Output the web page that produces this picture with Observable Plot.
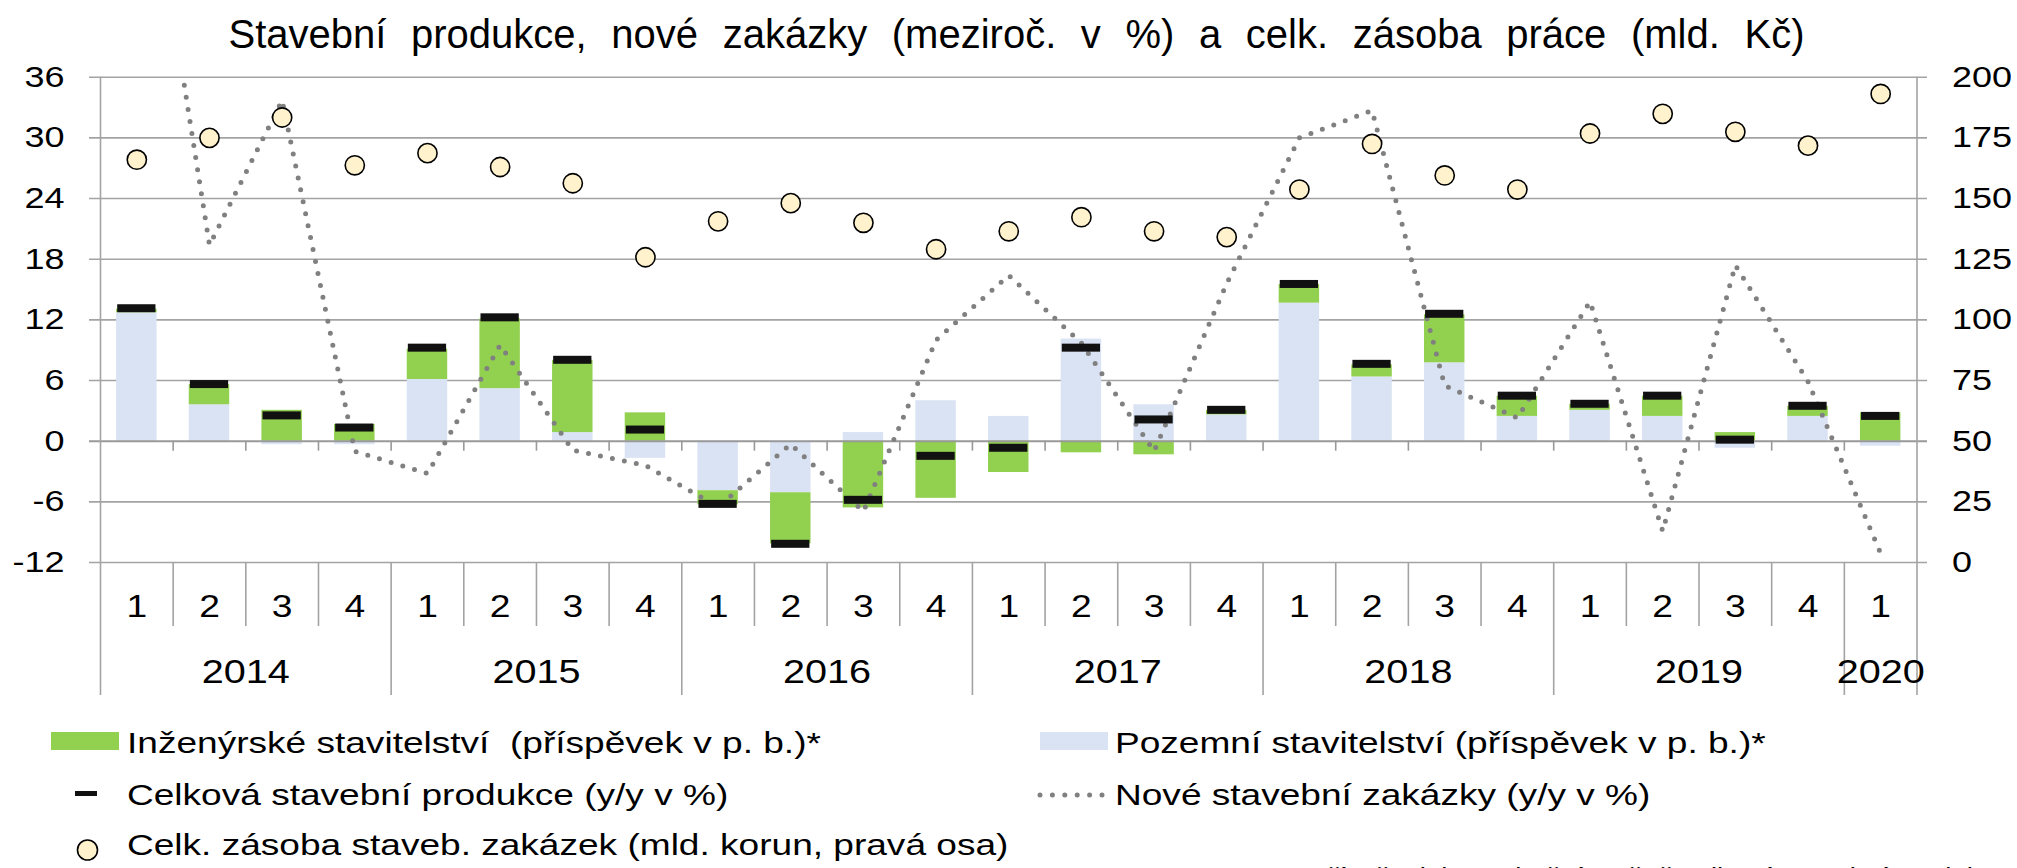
<!DOCTYPE html>
<html><head><meta charset="utf-8">
<script src="https://cdn.jsdelivr.net/npm/d3@7"></script>
<script src="https://cdn.jsdelivr.net/npm/@observablehq/plot@0.6"></script>
<style>
html,body{margin:0;padding:0;background:#fff;overflow:hidden}
#wrap{position:relative;width:2017px;height:868px;overflow:hidden;font-family:"Liberation Sans",Arial,sans-serif;color:#000}
#title{position:absolute;left:8px;top:14px;width:2017px;text-align:center;font-size:40px;line-height:1;white-space:pre;word-spacing:13.5px}
#chart{position:absolute;left:0;top:60px}
.lg{position:absolute;font-size:30px;line-height:1;white-space:pre;transform:scaleX(1.235);transform-origin:0 0}
.sw{position:absolute}
#foot{position:absolute;left:1295px;top:865px;font-size:22px;line-height:1;white-space:pre;transform:scaleX(1.26);transform-origin:0 0}
</style></head>
<body>
<div id="wrap">
  <div id="title">Stavební produkce, nové zakázky (meziroč. v %) a celk. zásoba práce (mld. Kč)</div>
  <div id="chart"></div>
  <div class="sw" style="left:51px;top:732px;width:68px;height:18px;background:#92D050"></div>
  <div class="lg" style="left:127px;top:728px">Inženýrské stavitelství  (příspěvek v p. b.)*</div>
  <div class="sw" style="left:75px;top:791px;width:22px;height:5px;background:#111"></div>
  <div class="lg" style="left:127px;top:780px">Celková stavební produkce (y/y v %)</div>
  <svg class="sw" style="left:74px;top:836px" width="28" height="28"><circle cx="13.5" cy="14" r="10" fill="#FFF2CC" stroke="#000" stroke-width="1.6"/></svg>
  <div class="lg" style="left:127px;top:830px">Celk. zásoba staveb. zakázek (mld. korun, pravá osa)</div>
  <div class="sw" style="left:1040px;top:732px;width:68px;height:18px;background:#DAE3F3"></div>
  <div class="lg" style="left:1115px;top:728px">Pozemní stavitelství (příspěvek v p. b.)*</div>
  <svg class="sw" style="left:1034px;top:788px" width="74" height="14"><line x1="6" y1="7" x2="68" y2="7" stroke="#808080" stroke-width="5" stroke-linecap="round" stroke-dasharray="0 12.4"/></svg>
  <div class="lg" style="left:1115px;top:780px">Nové stavební zakázky (y/y v %)</div>
  <div id="foot">* příspěvek k meziroční změně celkové stavební produkce</div>
</div>
<script>
// ---- data ----
const quarters = ["1","2","3","4","1","2","3","4","1","2","3","4","1","2","3","4","1","2","3","4","1","2","3","4","1"];
const years = ["2014","2015","2016","2017","2018","2019","2020"];
const quartersPerYear = [4,4,4,4,4,4,1];
// Pozemní stavitelství (příspěvek v p. b.)
const pozemni = [12.7,3.6,-0.35,-0.35,6.1,5.2,0.85,-1.7,-4.9,-5.1,0.85,4.0,2.45,10.1,3.6,2.6,13.65,6.35,7.75,2.45,3.05,2.45,-0.7,2.45,-0.5];
// Inženýrské stavitelství (příspěvek v p. b.)
const inzenyrske = [0.35,2.0,3.05,1.65,3.0,6.9,7.15,2.8,-1.4,-5.05,-6.6,-5.65,-3.1,-1.15,-1.35,0.45,1.85,1.2,4.75,2.0,0.6,2.0,0.85,1.0,2.8];
// Celková stavební produkce (y/y v %)
const celkova = [13.1,5.6,2.5,1.3,9.2,12.2,8.0,1.1,-6.25,-10.2,-5.85,-1.5,-0.7,9.2,2.1,3.05,15.5,7.6,12.55,4.45,3.65,4.45,0.1,3.45,2.45];
// Nové stavební zakázky (y/y v %)
const zakazky = [65,19.4,33.7,-1.0,-3.2,9.5,-0.9,-2.4,-6.5,-0.3,-6.95,10.0,16.4,9.7,-1.0,15.6,30.0,32.7,5.5,2.3,13.8,-8.9,17.4,5.9,-11.1];
// Celk. zásoba staveb. zakázek (mld. Kč, pravá osa)
const zasoba = [166,175,183.4,163.7,168.7,163,156.3,125.8,140.6,148.1,140,129.1,136.5,142.3,136.5,134.1,153.7,172.5,159.5,153.7,176.8,184.9,177.5,171.8,193.1];
const leftTicks = [-12,-6,0,6,12,18,24,30,36];
const rightTicks = [0,25,50,75,100,125,150,175,200];

// ---- derived ----
const leftDomain = [leftTicks[0], leftTicks[leftTicks.length-1]];
const rightDomain = [rightTicks[0], rightTicks[rightTicks.length-1]];
const toLeft = r => leftDomain[0] + (r - rightDomain[0]) / (rightDomain[1]-rightDomain[0]) * (leftDomain[1]-leftDomain[0]);
const n = quarters.length;
const rows = quarters.map((q,i) => ({i, q, B: pozemni[i], G: inzenyrske[i], T: celkova[i], N: zakazky[i], S: zasoba[i]}));
const segs = [];
rows.forEach(d => {
  let pos = 0, neg = 0;
  [["Pozemní", d.B, "#DAE3F3"], ["Inženýrské", d.G, "#92D050"]].forEach(([s, v, c]) => {
    if (v >= 0) { segs.push({i: d.i, s, c, y1: pos, y2: pos + v}); pos += v; }
    else { segs.push({i: d.i, s, c, y1: neg, y2: neg + v}); neg += v; }
  });
});
let acc = 0;
const yearRows = years.map((y,k) => { const c = acc + quartersPerYear[k]/2; const start = acc; acc += quartersPerYear[k]; return {y, c, start}; });
const yearBounds = [...yearRows.map(d => d.start), n];
const qBounds = d3.range(1, n).filter(b => !yearBounds.includes(b));
const grid = "#a3a3a3";
const bottom = leftDomain[0];

const chart = Plot.plot({
  width: 2017, height: 650,
  marginLeft: 100, marginRight: 100.5, marginTop: 16.7, marginBottom: 148,
  style: {fontFamily: "'Liberation Sans', Arial, sans-serif", background: "white", color: "black"},
  x: {type: "linear", domain: [0, n], axis: null},
  y: {domain: leftDomain, axis: null},
  marks: [
    Plot.ruleY(leftTicks.filter(t => t !== 0), {x1: 0, x2: n, stroke: grid, strokeWidth: 1.6, insetLeft: -11, insetRight: -10.5}),
    Plot.rect(segs, {x1: d => d.i, x2: d => d.i + 1, y1: "y1", y2: "y2", fill: "c", insetLeft: 16.1, insetRight: 16.1}),
    Plot.ruleY([0], {x1: 0, x2: n, stroke: "#999", strokeWidth: 2, insetLeft: -11, insetRight: -10.5}),
    Plot.ruleX(d3.range(1, n), {x: d => d, y1: 0, y2: 0, insetBottom: -10, stroke: "#999", strokeWidth: 1.6}),
    Plot.ruleX([0, n], {x: d => d, y1: leftDomain[1], y2: bottom, stroke: grid, strokeWidth: 1.6}),
    Plot.ruleX(qBounds, {x: d => d, y1: bottom, y2: bottom, insetBottom: -64, stroke: grid, strokeWidth: 1.6}),
    Plot.ruleX(yearBounds, {x: d => d, y1: bottom, y2: bottom, insetBottom: -133, stroke: grid, strokeWidth: 1.6}),
    Plot.line(rows, {x: d => d.i + 0.5, y: "N", stroke: "#808080", strokeWidth: 5, strokeDasharray: "0 12.2", strokeLinecap: "round", clip: true}),
    Plot.rect(rows, {x1: d => d.i, x2: d => d.i + 1, y1: "T", y2: "T", insetLeft: 17.2, insetRight: 17.2, insetTop: -4, insetBottom: -4, fill: "#111"}),
    Plot.dot(rows, {x: d => d.i + 0.5, y: d => toLeft(d.S), r: 9.6, fill: "#FFF2CC", stroke: "#000", strokeWidth: 1.6}),
    Plot.text(leftTicks, {x: 0, y: d => d, text: d => String(d), textAnchor: "end", dx: -36, fontSize: 30}),
    Plot.text(rightTicks, {x: n, y: d => toLeft(d), text: d => String(d), textAnchor: "start", dx: 35, fontSize: 30}),
    Plot.text(rows, {x: d => d.i + 0.5, y: bottom, dy: 45, text: "q", fontSize: 31}),
    Plot.text(yearRows, {x: "c", y: bottom, dy: 110, text: "y", fontSize: 33})
  ]
});
const SX = 1.2;
chart.querySelectorAll("text").forEach(t => {
  const x = parseFloat(t.getAttribute("x")) || 0;
  const tr = t.getAttribute("transform") || "";
  t.setAttribute("transform", `${tr} translate(${x},0) scale(${SX},1) translate(${-x},0)`);
});
document.getElementById("chart").appendChild(chart);
</script>
</body></html>
